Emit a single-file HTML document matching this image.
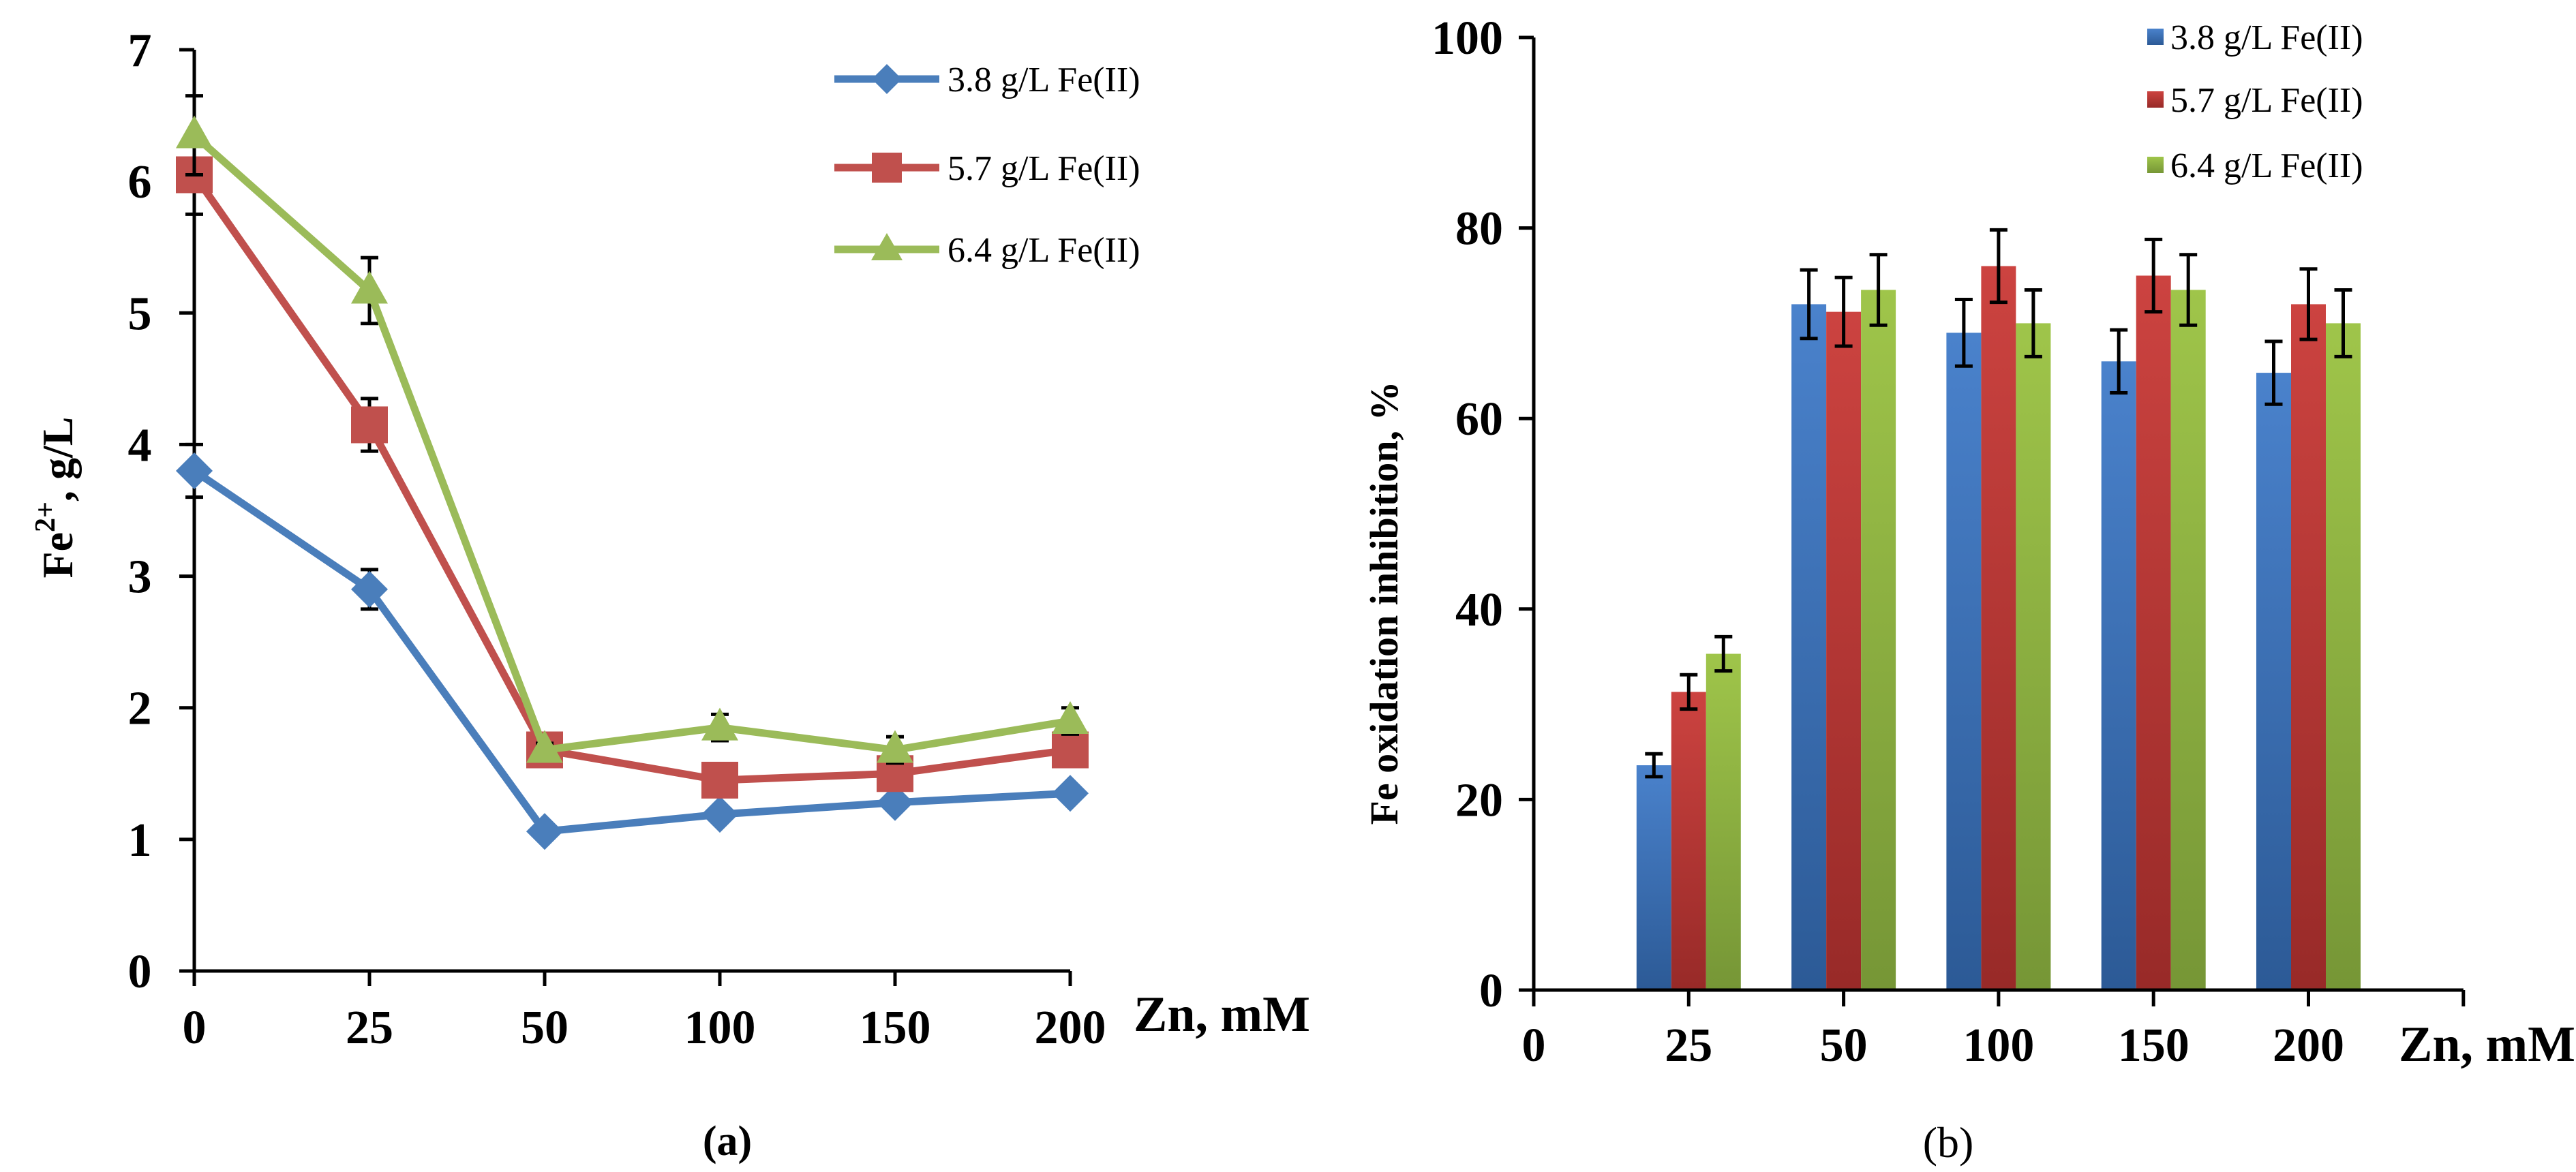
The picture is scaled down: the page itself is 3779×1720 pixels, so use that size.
<!DOCTYPE html>
<html><head><meta charset="utf-8">
<style>
html,body{margin:0;padding:0;background:#fff;}
svg{display:block;font-family:"Liberation Serif",serif;font-weight:bold;}
</style></head>
<body>
<svg id="fig" width="3779" height="1720" viewBox="0 0 3779 1720" xmlns="http://www.w3.org/2000/svg">
<defs>
<linearGradient id="gB" x1="0" y1="0" x2="0" y2="1"><stop offset="0" stop-color="#4a82cc"/><stop offset="1" stop-color="#2c5a96"/></linearGradient>
<linearGradient id="gR" x1="0" y1="0" x2="0" y2="1"><stop offset="0" stop-color="#cc4340"/><stop offset="1" stop-color="#982a28"/></linearGradient>
<linearGradient id="gG" x1="0" y1="0" x2="0" y2="1"><stop offset="0" stop-color="#9fc54a"/><stop offset="1" stop-color="#769636"/></linearGradient>
</defs>
<g id="left"></g>
<g id="right"></g>
</svg>
<script>
// ---- Chart (a) data ----
const catsA = ["0","25","50","100","150","200"];
const blueA = [3.8, 2.9, 1.06, 1.19, 1.28, 1.35];
const redA = [6.05, 4.15, 1.68, 1.45, 1.5, 1.68];
const greenA = [6.35, 5.17, 1.68, 1.85, 1.68, 1.9];
const blueErrA = [0.2, 0.15, 0.05, 0.05, 0.05, 0.05];
const redErrA = [0.3, 0.2, 0.05, 0.05, 0.05, 0.05];
const greenErrA = [0.3, 0.25, 0.05, 0.1, 0.1, 0.1];
const ticksA = [0,1,2,3,4,5,6,7];
// ---- Chart (b) data ----
const catsB = ["25","50","100","150","200"];
const blueB = [23.6, 72, 69, 66, 64.8];
const redB = [31.3, 71.2, 76, 75, 72];
const greenB = [35.3, 73.5, 70, 73.5, 70];
const blueErrB = [1.2, 3.6, 3.5, 3.3, 3.3];
const redErrB = [1.8, 3.6, 3.8, 3.8, 3.7];
const greenErrB = [1.8, 3.7, 3.5, 3.7, 3.5];
const ticksB = [0,20,40,60,80,100];

const NS = "http://www.w3.org/2000/svg";
function mk(parent, tag, attrs, text){
  const e = document.createElementNS(NS, tag);
  for (const k in attrs) e.setAttribute(k, attrs[k]);
  if (text !== undefined) e.textContent = text;
  parent.appendChild(e);
  return e;
}
const colors = ["#4a7ebb","#c0504d","#9bbb59"];
const names = ["3.8 g/L Fe(II)","5.7 g/L Fe(II)","6.4 g/L Fe(II)"];

// ===== Chart A =====
const L = document.getElementById("left");
const ax0 = 285, ay0 = 1425, ayTop = 73, step = 257;
const xA = i => ax0 + i*step;
const yA = v => ay0 - v*(ay0-ayTop)/7;
let e;
e = mk(L,"line",{x1:ax0,y1:ay0,x2:ax0,y2:ayTop,stroke:"#000","stroke-width":5});
 
e = mk(L,"line",{x1:ax0,y1:ay0,x2:xA(5),y2:ay0,stroke:"#000","stroke-width":5});
 
ticksA.forEach(t=>{
  mk(L,"line",{x1:ax0-22,y1:yA(t),x2:ax0,y2:yA(t),stroke:"#000","stroke-width":5});
  e = mk(L,"text",{x:205,y:yA(t)+24,"text-anchor":"middle","font-size":70},String(t));
   
});
catsA.forEach((c,i)=>{
  mk(L,"line",{x1:xA(i),y1:ay0,x2:xA(i),y2:ay0+22,stroke:"#000","stroke-width":5});
  e = mk(L,"text",{x:xA(i),y:1531,"text-anchor":"middle","font-size":70},c);
   
});
e = mk(L,"text",{x:1663,y:1513,"font-size":74},"Zn, mM");
 
e = mk(L,"text",{x:0,y:0,"text-anchor":"middle","font-size":64,transform:"translate(106,730) rotate(-90)"});
 
e.innerHTML = 'Fe<tspan dy="-26" font-size="42">2+</tspan><tspan dy="26">, g/L</tspan>';
e = mk(L,"text",{x:1067,y:1695,"text-anchor":"middle","font-size":62},"(a)");
 

function errBar(g, x, v, err, yf, cap){
  mk(g,"line",{x1:x,y1:yf(v+err),x2:x,y2:yf(v-err),stroke:"#000","stroke-width":5});
  mk(g,"line",{x1:x-cap,y1:yf(v+err),x2:x+cap,y2:yf(v+err),stroke:"#000","stroke-width":5});
  mk(g,"line",{x1:x-cap,y1:yf(v-err),x2:x+cap,y2:yf(v-err),stroke:"#000","stroke-width":5});
}
const seriesA = [[blueA,blueErrA],[redA,redErrA],[greenA,greenErrA]];
seriesA.forEach(([vals,errs],s)=>{
  const g = mk(L,"g",{});
   
  vals.forEach((v,i)=>errBar(g,xA(i),v,errs[i],yA,13));
  const pts = vals.map((v,i)=>xA(i)+","+yA(v)).join(" ");
  mk(g,"polyline",{points:pts,fill:"none",stroke:colors[s],"stroke-width":11,"stroke-linejoin":"round"});
  vals.forEach((v,i)=>{
    const x=xA(i), y=yA(v);
    let m;
    if(s===0) m = mk(g,"polygon",{points:`${x},${y-27} ${x+27},${y} ${x},${y+27} ${x-27},${y}`,fill:"#4a7ebb"});
    else if(s===1) m = mk(g,"rect",{x:x-27,y:y-27,width:54,height:54,fill:"#c0504d"});
    else m = mk(g,"polygon",{points:`${x},${y-29} ${x+27},${y+19} ${x-27},${y+19}`,fill:"#9bbb59"});
     
  });
});
// legend A
const legYA = [116,246,366];
names.forEach((n,s)=>{
  const g = mk(L,"g",{});
   
  const y = legYA[s];
  mk(g,"line",{x1:1224,y1:y,x2:1378,y2:y,stroke:colors[s],"stroke-width":11});
  const x=1301;
  if(s===0) mk(g,"polygon",{points:`${x},${y-22} ${x+22},${y} ${x},${y+22} ${x-22},${y}`,fill:colors[0]});
  else if(s===1) mk(g,"rect",{x:x-22,y:y-22,width:44,height:44,fill:colors[1]});
  else mk(g,"polygon",{points:`${x},${y-24} ${x+23},${y+16} ${x-23},${y+16}`,fill:colors[2]});
  mk(g,"text",{x:1390,y:y+18,"font-size":52,"font-weight":"normal"},n);
});

// ===== Chart B =====
const R = document.getElementById("right");
const bx0 = 2250, by0 = 1453, byTop = 55, bstep = 227.3;
const xB = i => bx0 + (i+1)*bstep;
const yB = v => by0 - v*(by0-byTop)/100;
const bw = 51;
const seriesB = [[blueB,blueErrB,"url(#gB)"],[redB,redErrB,"url(#gR)"],[greenB,greenErrB,"url(#gG)"]];
seriesB.forEach(([vals,errs,fill],s)=>{
  const g = mk(R,"g",{});
   
  vals.forEach((v,i)=>{
    const x = xB(i) - 1.5*bw + s*bw;
    const r = mk(g,"rect",{x:x,y:yB(v),width:bw,height:by0-yB(v),fill:fill});
     
  });
});
seriesB.forEach(([vals,errs],s)=>{
  const g = mk(R,"g",{});
   
  vals.forEach((v,i)=>errBar(g, xB(i)-bw+s*bw, v, errs[i], yB, 13));
});
e = mk(R,"line",{x1:bx0,y1:by0,x2:bx0,y2:byTop,stroke:"#000","stroke-width":5});
 
e = mk(R,"line",{x1:bx0,y1:by0,x2:bx0+6*bstep,y2:by0,stroke:"#000","stroke-width":5});
 
ticksB.forEach(t=>{
  mk(R,"line",{x1:bx0-22,y1:yB(t),x2:bx0,y2:yB(t),stroke:"#000","stroke-width":5});
  e = mk(R,"text",{x:2205,y:yB(t)+24,"text-anchor":"end","font-size":70},String(t));
   
});
["0"].concat(catsB).forEach((c,i)=>{
  mk(R,"line",{x1:bx0+i*bstep,y1:by0,x2:bx0+i*bstep,y2:by0+24,stroke:"#000","stroke-width":5});
  e = mk(R,"text",{x:bx0+i*bstep,y:1557,"text-anchor":"middle","font-size":70},c);
   
});
mk(R,"line",{x1:bx0+6*bstep,y1:by0,x2:bx0+6*bstep,y2:by0+24,stroke:"#000","stroke-width":5});
e = mk(R,"text",{x:3519,y:1557,"font-size":74},"Zn, mM");
 
e = mk(R,"text",{x:0,y:0,"text-anchor":"middle","font-size":58,transform:"translate(2050,885) rotate(-90)"},"Fe oxidation inhibition,  %");
 
e = mk(R,"text",{x:2858,y:1698,"text-anchor":"middle","font-size":64,"font-weight":"normal"},"(b)");
 
const legYB = [55,147,243];
const legFill = ["url(#gB)","url(#gR)","url(#gG)"];
names.forEach((n,s)=>{
  const g = mk(R,"g",{});
   
  mk(g,"rect",{x:3150,y:legYB[s]-13,width:24,height:24,fill:legFill[s]});
  mk(g,"text",{x:3184,y:legYB[s]+17,"font-size":52,"font-weight":"normal"},n);
});
</script>
</body></html>
